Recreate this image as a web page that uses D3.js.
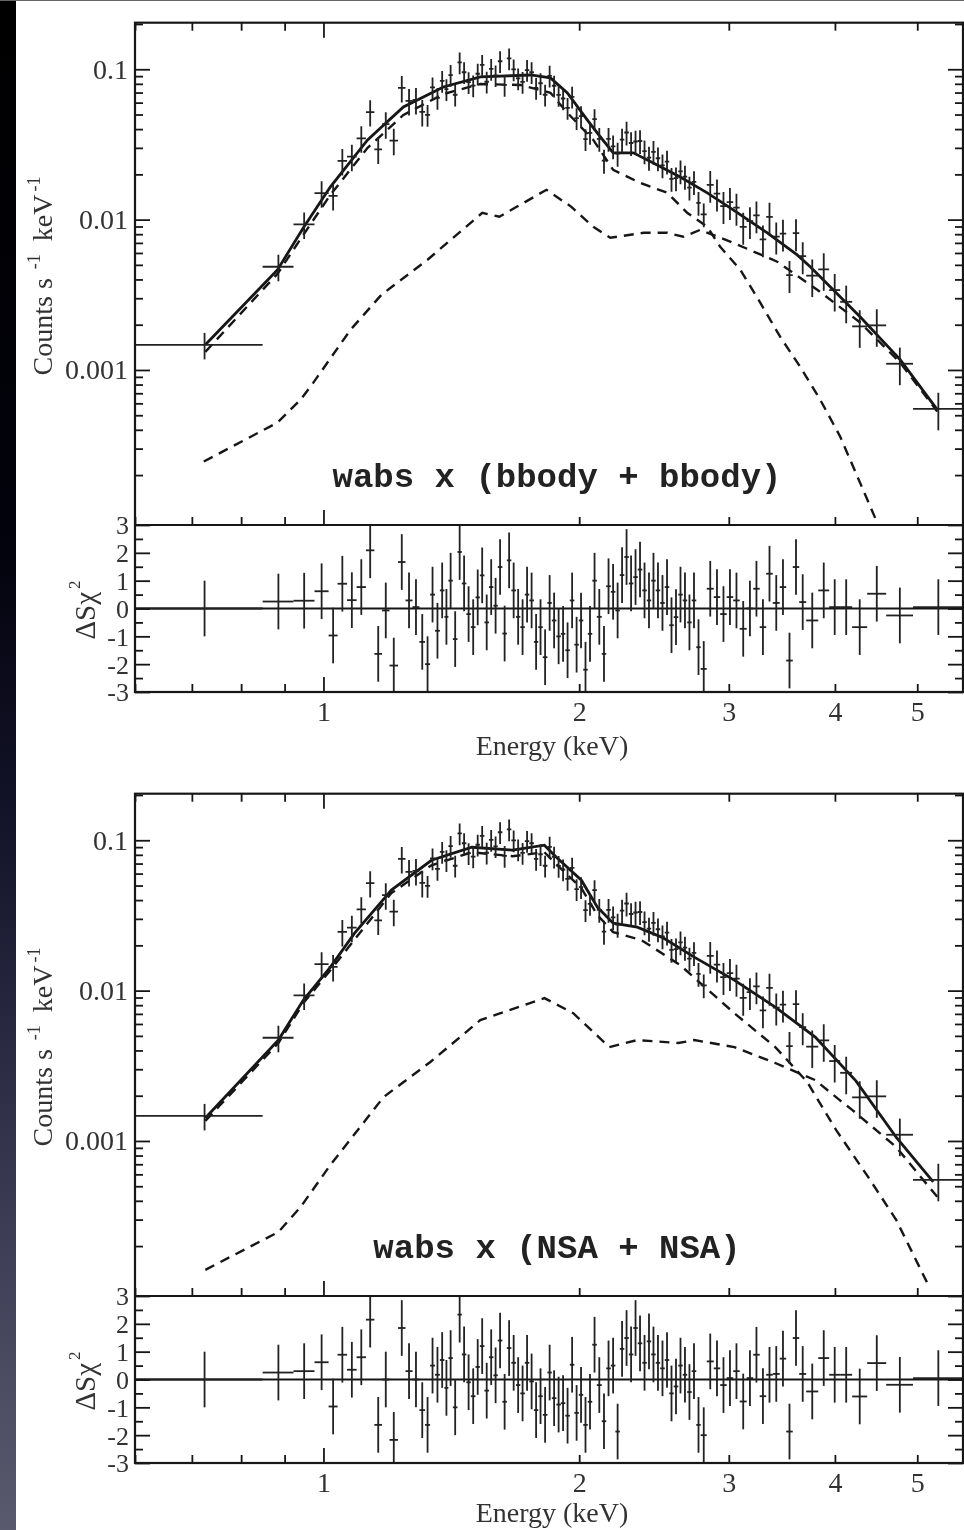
<!DOCTYPE html>
<html>
<head>
<meta charset="utf-8">
<script src="https://cdn.jsdelivr.net/npm/d3@7"></script>
<style>
  body { margin: 0; background: #fff; }
  svg { display: block; }
</style>
</head>
<body>
<script>
// ---- spectrum bins (keV), shared by both fits ----
var binEdges = [0.601, 0.848, 0.922, 0.976, 1.014,
  1.039, 1.066, 1.094, 1.122, 1.148, 1.172, 1.196, 1.224, 1.249, 1.273, 1.297, 1.317,
  1.335, 1.353, 1.371, 1.388, 1.403, 1.420, 1.438, 1.455, 1.473, 1.491,
  1.510, 1.528, 1.547, 1.566, 1.585, 1.604, 1.624, 1.644, 1.664, 1.685,
  1.705, 1.726, 1.747, 1.769, 1.790, 1.812, 1.835, 1.857, 1.880, 1.903,
  1.926, 1.950, 1.974, 1.998, 2.022, 2.047, 2.072, 2.098,
  2.126, 2.152, 2.179, 2.206, 2.233, 2.260, 2.288, 2.316, 2.344, 2.373,
  2.402, 2.431, 2.461, 2.491, 2.522, 2.553, 2.584, 2.616, 2.648, 2.680,
  2.713, 2.747, 2.780, 2.826,
  2.880, 2.931, 2.983, 3.036, 3.090, 3.149, 3.205, 3.262, 3.320, 3.380,
  3.444, 3.505, 3.568, 3.631, 3.700,
  3.823, 3.938, 4.057, 4.191, 4.365, 4.596, 4.943, 5.645];

// counts s-1 keV-1
var rate = [0.00147, 0.00486, 0.00929, 0.0150,
  0.01437, 0.02455, 0.02622, 0.03475, 0.05194, 0.02931, 0.04311, 0.03349, 0.07521, 0.06158, 0.06262, 0.05212,
  0.04969, 0.07568, 0.06447, 0.08363, 0.07374, 0.09151, 0.06770, 0.1111, 0.09552, 0.08210,
  0.07791, 0.09335, 0.1068, 0.08260, 0.1006, 0.09109, 0.1130, 0.07862, 0.1180, 0.09984,
  0.08686, 0.08234, 0.09878, 0.09552, 0.07509, 0.08072, 0.06770, 0.09040, 0.07767, 0.06749,
  0.06388, 0.05532, 0.06556, 0.04732, 0.04879, 0.03427, 0.03773, 0.04661,
  0.03443, 0.02466, 0.03443, 0.03074, 0.02745, 0.03401, 0.03796, 0.03233, 0.03308, 0.03333,
  0.02851, 0.02582, 0.02821, 0.02559, 0.02295, 0.02432, 0.01869, 0.01886, 0.02094, 0.01930,
  0.01632, 0.01780, 0.01293, 0.01084,
  0.01701, 0.01489, 0.01229, 0.01307, 0.01200, 0.00896, 0.00976, 0.01066, 0.00738, 0.01044,
  0.00771, 0.00806, 0.00428, 0.00812, 0.00571,
  0.00424, 0.00467, 0.00340, 0.00284, 0.00195, 0.00198, 0.00110, 0.000551];

// fractional 1-sigma errors
var fracErr = [0.20, 0.20, 0.20, 0.20,
  0.20, 0.20, 0.20, 0.20, 0.20, 0.20, 0.20, 0.20, 0.20, 0.20, 0.20, 0.20,
  0.165, 0.165, 0.165, 0.165, 0.165, 0.165, 0.165, 0.165, 0.165, 0.165,
  0.165, 0.165, 0.165, 0.165, 0.165, 0.165, 0.165, 0.165, 0.165, 0.165,
  0.165, 0.165, 0.165, 0.165, 0.165, 0.165, 0.165, 0.165, 0.165, 0.165,
  0.165, 0.165, 0.165, 0.165, 0.165, 0.165, 0.165, 0.165,
  0.18, 0.18, 0.18, 0.18, 0.18, 0.18, 0.18, 0.18, 0.18, 0.18,
  0.18, 0.18, 0.18, 0.18, 0.18, 0.18, 0.18, 0.18, 0.18, 0.18,
  0.18, 0.18, 0.18, 0.18,
  0.24, 0.24, 0.24, 0.24, 0.24, 0.24, 0.24, 0.24, 0.24, 0.24,
  0.24, 0.24, 0.24, 0.24, 0.24,
  0.28, 0.28, 0.28, 0.28, 0.28, 0.28, 0.28, 0.28];

// residuals (delta S chi^2) for each fit
var residBB = [0, 0.25, 0.28, 0.62,
  -0.97, 0.89, 0.3, 0.77, 2.09, -1.63, -0.07, -2.05, 1.67, 0.29, 0.05, -1.2,
  -2.0, 0.5, -0.8, 0.65, -0.3, 1.0, -1.1, 2.03, 0.9, -0.2,
  -0.67, 0.4, 1.19, -0.5, 0.77, 0.1, 1.49, -0.9, 1.73, 0.65,
  -0.3, -0.67, 0.5, 0.29, -1.2, -0.67, -1.75, 0.2, -0.43, -1.0,
  -0.91, -1.5, 0.29, -1.3, -0.43, -2.2, -0.91, 1.0,
  -0.3, -1.63, 0.8, 0.6, -0.07, 1.2, 1.85, 0.9, 1.13, 1.4,
  0.65, 0.29, 1.0, 0.65, 0.2, 0.77, -0.6, -0.31, 0.5, 0.29,
  -0.5, 0.29, -1.39, -2.17,
  0.71, 0.41, -0.2, 0.41, 0.29, -0.73, 0, 0.71, -0.67, 1.25,
  0.2, 0.77, -1.87, 1.49, 0.23,
  -0.43, 0.65, 0.05, 0.05, -0.67, 0.53, -0.25, 0.05];

var residNSA = [0, 0.25, 0.3, 0.62,
  -0.97, 0.89, 0.35, 0.8, 2.15, -1.63, 0.0, -2.17, 1.85, 0.3, 0.0, -1.1,
  -1.63, 0.5, 0.17, 0.7, -0.3, 0.77, -1.0, 2.33, 0.9, -0.1,
  -0.6, 0.45, 1.2, -0.4, 0.8, 0.15, 1.4, -0.8, 1.13, 0.6,
  -0.2, -0.5, 0.6, -0.07, -1.1, -0.6, -1.27, 0.25, -0.67, -0.9,
  -0.85, -1.3, 0.53, -1.2, -0.55, -1.63, -0.8, 1.25,
  -0.2, -1.5, 0.4, 0.5, -1.87, 1.1, 1.49, 0.9, 1.85, 1.3,
  0.6, 1.37, 0.9, 0.6, 0.4, 0.7, -0.5, -0.25, 0.5, 0.17,
  -0.45, 0.3, -1.63, -2.0,
  0.65, 0.4, -0.2, 0.05, 0.3, -0.79, 0.05, 0.89, -0.6, 0.17,
  0.2, 0.75, -1.87, 1.49, 0.2,
  -0.43, 0.77, 0.17, 0.17, -0.61, 0.59, -0.19, 0.05];

// ---- model curves: wabs x (bbody + bbody) ----
var bbTotalE = [0.726, 0.883, 0.947, 1.019, 1.127, 1.242, 1.384, 1.530, 1.752, 1.850, 1.937, 2.044, 2.118, 2.193, 2.316, 2.445, 2.630, 2.830, 3.036, 3.330, 3.611, 3.741, 4.282, 4.774, 5.278];
var bbTotal = [0.00147, 0.00464, 0.00883, 0.01652, 0.0339, 0.0562, 0.0762, 0.0889, 0.0916, 0.0876, 0.0697, 0.0461, 0.0355, 0.0278, 0.0278, 0.0238, 0.0192, 0.01507, 0.01161, 0.00817, 0.00583, 0.00486, 0.00226, 0.00117, 0.000545];
var bbSoftE = [0.726, 0.883, 0.947, 1.019, 1.127, 1.242, 1.384, 1.530, 1.705, 1.850, 1.937, 2.078, 2.193, 2.360, 2.540, 2.680, 2.830, 2.931, 3.095, 3.267, 3.449, 3.640, 3.843, 4.057, 4.484];
var bbSoft = [0.00132, 0.00437, 0.00793, 0.01462, 0.0300, 0.0497, 0.0684, 0.0798, 0.0786, 0.0697, 0.0513, 0.0339, 0.0214, 0.01754, 0.01507, 0.01109, 0.00895, 0.00659, 0.00464, 0.00280, 0.00166, 0.00105, 0.000635, 0.000361, 0.000097];
var bbHardE = [0.723, 0.883, 0.940, 0.973, 1.076, 1.170, 1.326, 1.538, 1.611, 1.830, 1.958, 2.078, 2.176, 2.380, 2.540, 2.652, 2.776, 3.036, 3.421, 3.812, 4.282, 4.774, 5.278];
var bbHard = [0.000246, 0.000447, 0.000635, 0.000824, 0.00185, 0.00316, 0.00541, 0.01109, 0.01045, 0.01578, 0.01216, 0.00895, 0.00757, 0.00817, 0.00817, 0.00769, 0.00855, 0.00701, 0.00525, 0.00342, 0.00207, 0.00112, 0.00053];

// ---- model curves: wabs x (NSA + NSA) ----
var nsaTotalE = [0.726, 0.885, 0.947, 1.019, 1.088, 1.202, 1.340, 1.495, 1.669, 1.820, 1.880, 2.012, 2.101, 2.193, 2.341, 2.505, 2.732, 3.045, 3.403, 3.792, 4.236, 4.722, 5.221];
var nsaTotal = [0.00142, 0.00469, 0.00865, 0.01432, 0.0241, 0.0466, 0.0736, 0.0898, 0.0859, 0.0927, 0.0771, 0.0542, 0.0359, 0.0281, 0.0264, 0.0226, 0.0167, 0.01175, 0.00776, 0.00491, 0.00250, 0.00106, 0.000535];
var nsaSoftE = [0.726, 0.885, 0.947, 1.019, 1.202, 1.340, 1.495, 1.669, 1.820, 1.880, 2.012, 2.101, 2.193, 2.367, 2.630, 3.045, 3.403, 3.710, 4.014, 4.376, 4.722, 5.165];
var nsaSoft = [0.00136, 0.00448, 0.00826, 0.01368, 0.0445, 0.0682, 0.0832, 0.0783, 0.0832, 0.0692, 0.0480, 0.0318, 0.0245, 0.0217, 0.01476, 0.00708, 0.00421, 0.00247, 0.00118, 0.000577, 0.000299, 0.000107];
var nsaHardE = [0.726, 0.885, 0.940, 1.019, 1.177, 1.336, 1.530, 1.820, 1.968, 2.170, 2.341, 2.616, 2.732, 3.045, 3.403, 3.792, 4.052, 4.191, 4.722, 5.278];
var nsaHard = [0.000139, 0.000248, 0.000364, 0.000693, 0.00196, 0.00335, 0.00637, 0.00891, 0.00708, 0.00421, 0.00469, 0.00448, 0.00469, 0.00421, 0.00330, 0.00254, 0.00187, 0.00161, 0.000912, 0.000425];

// axis labels
var xTickLabels = [1, 2, 3, 4, 5];
var yTickLabels = [0.001, 0.01, 0.1];
var resTickLabels = [-3, -2, -1, 0, 1, 2, 3];
var modelNames = ['wabs x (bbody + bbody)', 'wabs x (NSA + NSA)'];

var W = 964, H = 1530;
var left = 135, right = 963;
var serif = "'Liberation Serif', 'Times New Roman', serif";
var ink = '#161616';

var svg = d3.select('body').append('svg')
  .attr('width', W)
  .attr('height', H);

var defs = svg.append('defs');
var grad = defs.append('linearGradient')
  .attr('id', 'strip')
  .attr('x1', 0).attr('y1', 0).attr('x2', 0).attr('y2', 1);
grad.append('stop').attr('offset', '0').attr('stop-color', '#000');
grad.append('stop').attr('offset', '0.35').attr('stop-color', '#02020c');
grad.append('stop').attr('offset', '0.55').attr('stop-color', '#15152c');
grad.append('stop').attr('offset', '0.8').attr('stop-color', '#3c3c55');
grad.append('stop').attr('offset', '1').attr('stop-color', '#5a5a6e');

defs.append('filter').attr('id', 'soft')
  .append('feGaussianBlur').attr('stdDeviation', 0.45);

svg.append('rect').attr('width', W).attr('height', H).attr('fill', '#fff');
svg.append('rect').attr('x', 0).attr('y', 0).attr('width', 16).attr('height', H).attr('fill', 'url(#strip)');
svg.append('line').attr('x1', 0).attr('x2', W).attr('y1', 0.5).attr('y2', 0.5)
  .attr('stroke', '#666').attr('stroke-width', 1);

var x = d3.scaleLog().domain([0.6, 5.66]).range([left, right]);

var bins = rate.map(function(r, i) {
  var lo = binEdges[i], hi = binEdges[i + 1];
  return { lo: lo, hi: hi, e: (lo + hi) / 2, rate: r, err: r * fracErr[i] };
});

var panels = [
  { dy: 0, name: modelNames[0], resid: residBB,
    total: d3.zip(bbTotalE, bbTotal), comps: [d3.zip(bbSoftE, bbSoft), d3.zip(bbHardE, bbHard)] },
  { dy: 771, name: modelNames[1], resid: residNSA,
    total: d3.zip(nsaTotalE, nsaTotal), comps: [d3.zip(nsaSoftE, nsaSoft), d3.zip(nsaHardE, nsaHard)] }
];

function styleAxis(g) {
  g.select('.domain').remove();
  g.selectAll('.tick line').attr('stroke', ink).attr('stroke-width', 1.8);
  g.selectAll('.tick text').attr('fill', '#333').style('font-family', serif).style('font-size', '28px');
}

panels.forEach(function(p, k) {
  var top = 22.7 + p.dy, mid = 525 + p.dy, bot = 692 + p.dy;
  var g = svg.append('g').attr('filter', 'url(#soft)');

  var y = d3.scaleLog().domain([9.31e-5, 0.204]).range([mid, top]);
  var yr = d3.scaleLinear().domain([-3, 3]).range([bot, mid]);

  defs.append('clipPath').attr('id', 'clipMain' + k)
    .append('rect').attr('x', left).attr('y', top).attr('width', right - left).attr('height', mid - top);
  defs.append('clipPath').attr('id', 'clipRes' + k)
    .append('rect').attr('x', left).attr('y', mid).attr('width', right - left).attr('height', bot - mid);

  // ---- spectrum panel ----
  var main = g.append('g').attr('clip-path', 'url(#clipMain' + k + ')');
  var line = d3.line().x(function(d) { return x(d[0]); }).y(function(d) { return y(d[1]); });

  p.comps.forEach(function(c) {
    main.append('path').datum(c).attr('d', line)
      .attr('fill', 'none').attr('stroke', ink).attr('stroke-width', 2.4)
      .attr('stroke-dasharray', '10,7');
  });
  main.append('path').datum(p.total).attr('d', line)
    .attr('fill', 'none').attr('stroke', ink).attr('stroke-width', 2.8);

  var pts = main.append('g').attr('stroke', '#202020').attr('stroke-width', 1.8);
  pts.selectAll('line.v').data(bins).enter().append('line').attr('class', 'v')
    .attr('x1', function(d) { return x(d.e); }).attr('x2', function(d) { return x(d.e); })
    .attr('y1', function(d) { return y(d.rate - d.err); })
    .attr('y2', function(d) { return y(d.rate + d.err); });
  pts.selectAll('line.h').data(bins).enter().append('line').attr('class', 'h')
    .attr('x1', function(d) { return x(d.lo); }).attr('x2', function(d) { return x(d.hi); })
    .attr('y1', function(d) { return y(d.rate); }).attr('y2', function(d) { return y(d.rate); });

  // ---- residual panel ----
  var res = g.append('g').attr('clip-path', 'url(#clipRes' + k + ')');
  res.append('line').attr('x1', left).attr('x2', right).attr('y1', yr(0)).attr('y2', yr(0))
    .attr('stroke', ink).attr('stroke-width', 2.2);
  var rp = res.append('g').attr('stroke', '#202020').attr('stroke-width', 1.8);
  rp.selectAll('line.v').data(bins).enter().append('line').attr('class', 'v')
    .attr('x1', function(d) { return x(d.e); }).attr('x2', function(d) { return x(d.e); })
    .attr('y1', function(d, i) { return yr(p.resid[i] - 1); })
    .attr('y2', function(d, i) { return yr(p.resid[i] + 1); });
  rp.selectAll('line.h').data(bins).enter().append('line').attr('class', 'h')
    .attr('x1', function(d) { return x(d.lo); }).attr('x2', function(d) { return x(d.hi); })
    .attr('y1', function(d, i) { return yr(p.resid[i]); })
    .attr('y2', function(d, i) { return yr(p.resid[i]); });

  // ---- frames ----
  g.append('rect').attr('x', left).attr('y', top).attr('width', right - left).attr('height', bot - top)
    .attr('fill', 'none').attr('stroke', ink).attr('stroke-width', 2.2);
  g.append('line').attr('x1', left).attr('x2', right).attr('y1', mid).attr('y2', mid)
    .attr('stroke', ink).attr('stroke-width', 2.2);

  // ---- ticks ----
  var xMinor = x.ticks().filter(function(v) { return v !== 1; });
  [top, mid, bot].forEach(function(yy, j) {
    var dir = j === 0 ? 1 : -1;   // top frame ticks point down, others up
    g.append('g').attr('transform', 'translate(0,' + yy + ')')
      .call(d3.axisBottom(x).tickValues(xMinor).tickFormat(''))
      .call(function(s) { s.selectAll('.tick line').attr('y2', 8 * dir); styleAxis(s); });
    g.append('g').attr('transform', 'translate(0,' + yy + ')')
      .call(d3.axisBottom(x).tickValues([1]).tickFormat(''))
      .call(function(s) { s.selectAll('.tick line').attr('y2', 15 * dir); styleAxis(s); });
  });

  var yMinor = y.ticks().filter(function(v) { return yTickLabels.indexOf(v) < 0 && v > 1.5e-4; });
  [[left, 1], [right, -1]].forEach(function(s) {
    g.append('g').attr('transform', 'translate(' + s[0] + ',0)')
      .call(d3.axisRight(y).tickValues(yMinor).tickFormat(''))
      .call(function(a) { a.selectAll('.tick line').attr('x2', 8 * s[1]); styleAxis(a); });
    g.append('g').attr('transform', 'translate(' + s[0] + ',0)')
      .call(d3.axisRight(y).tickValues(yTickLabels).tickFormat(''))
      .call(function(a) { a.selectAll('.tick line').attr('x2', 15 * s[1]); styleAxis(a); });
    g.append('g').attr('transform', 'translate(' + s[0] + ',0)')
      .call(d3.axisRight(yr).tickValues(resTickLabels).tickFormat(''))
      .call(function(a) { a.selectAll('.tick line').attr('x2', 15 * s[1]); styleAxis(a); });
    g.append('g').attr('transform', 'translate(' + s[0] + ',0)')
      .call(d3.axisRight(yr).tickValues([-2.5, -1.5, -0.5, 0.5, 1.5, 2.5]).tickFormat(''))
      .call(function(a) { a.selectAll('.tick line').attr('x2', 8 * s[1]); styleAxis(a); });
  });

  // ---- tick labels ----
  g.append('g').attr('transform', 'translate(' + left + ',0)')
    .call(d3.axisLeft(y).tickValues(yTickLabels).tickSize(0).tickPadding(7)
      .tickFormat(function(d) { return String(d); }))
    .call(styleAxis);

  g.append('g').attr('transform', 'translate(' + left + ',0)')
    .call(d3.axisLeft(yr).tickValues(resTickLabels).tickSize(0).tickPadding(6)
      .tickFormat(function(d) { return String(d); }))
    .call(styleAxis)
    .call(function(a) { a.selectAll('.tick text').style('font-size', '26px').attr('dy', '0.34em'); });

  g.append('g').attr('transform', 'translate(0,' + bot + ')')
    .call(d3.axisBottom(x).tickValues(xTickLabels).tickSize(0).tickPadding(9)
      .tickFormat(d3.format('d')))
    .call(styleAxis);

  // ---- titles ----
  var yl = g.append('text')
    .attr('transform', 'translate(52,' + (276 + p.dy) + ') rotate(-90)')
    .attr('text-anchor', 'middle').attr('fill', '#333')
    .style('font-family', serif).style('font-size', '28px');
  yl.append('tspan').text('Counts s');
  yl.append('tspan').attr('dy', -12).attr('dx', 9).style('font-size', '18px').text('-1');
  yl.append('tspan').attr('dy', 12).attr('dx', 13).text('keV');
  yl.append('tspan').attr('dy', -12).attr('dx', 3).style('font-size', '18px').text('-1');

  var rl = g.append('text')
    .attr('transform', 'translate(95,' + (610 + p.dy) + ') rotate(-90)')
    .attr('text-anchor', 'middle').attr('fill', '#333')
    .style('font-family', serif).style('font-size', '29px');
  rl.append('tspan').text('\u0394S\u03c7');
  rl.append('tspan').attr('dy', -15).attr('dx', 3).style('font-size', '17px').text('2');

  g.append('text')
    .attr('x', 552).attr('y', Math.min(755 + p.dy, H - 8))
    .attr('text-anchor', 'middle').attr('fill', '#333')
    .style('font-family', serif).style('font-size', '28px')
    .text('Energy (keV)');

  g.append('text')
    .attr('x', 557).attr('y', 487 + p.dy)
    .attr('text-anchor', 'middle').attr('fill', '#222')
    .style('font-family', "'Liberation Mono', 'Courier New', monospace")
    .style('font-weight', 'bold').style('font-size', '34px')
    .text(p.name);
});
</script>
</body>
</html>
